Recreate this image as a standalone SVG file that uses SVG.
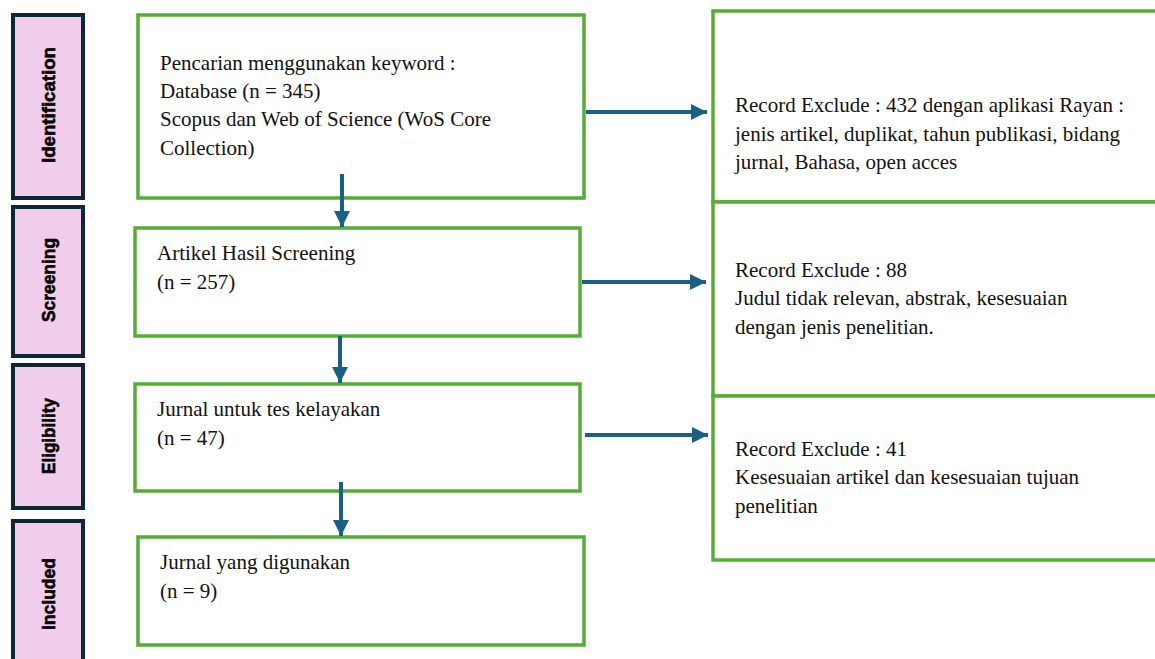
<svg xmlns="http://www.w3.org/2000/svg" width="1155" height="659" viewBox="0 0 1155 659">
<style>
.stage{fill:#f0cdeb;stroke:#0f2636;stroke-width:4}
.stxt{font-family:"Liberation Sans",Arial,sans-serif;font-weight:bold;font-size:19px;fill:#000;stroke:#000;stroke-width:0.6;text-anchor:middle}
.box{fill:#fff;stroke:#56ac34;stroke-width:3.5}
.t{font-family:"Liberation Serif","Times New Roman",serif;font-size:21px;fill:#111}
.conn{stroke:#1b5f82;stroke-width:4;fill:none}
</style>
<defs>
<marker id="ah" viewBox="0 0 10 10" refX="10" refY="5" markerWidth="4.2" markerHeight="4" orient="auto" markerUnits="strokeWidth">
<path d="M0,0 L10,5 L0,10 z" fill="#1b5f82"/>
</marker>
</defs>
<rect width="1155" height="659" fill="#fff"/>
<g id="stage-identification">
<rect class="stage" x="13" y="15" width="70" height="183"/>
<text class="stxt" transform="translate(55,105) rotate(-90)" textLength="116" lengthAdjust="spacingAndGlyphs">Identification</text>
</g>
<g id="stage-screening">
<rect class="stage" x="13" y="207" width="70" height="149"/>
<text class="stxt" transform="translate(55,280) rotate(-90)" textLength="84" lengthAdjust="spacingAndGlyphs">Screening</text>
</g>
<g id="stage-eligibility">
<rect class="stage" x="13" y="365" width="70" height="143"/>
<text class="stxt" transform="translate(55,436) rotate(-90)" textLength="76" lengthAdjust="spacingAndGlyphs">Eligibility</text>
</g>
<g id="stage-included">
<rect class="stage" x="13" y="521" width="70" height="142"/>
<text class="stxt" transform="translate(55,594) rotate(-90)" textLength="72" lengthAdjust="spacingAndGlyphs">Included</text>
</g>
<g id="node-excl1">
<rect class="box" x="713" y="11" width="450" height="191"/>
<text class="t" x="735" y="112">Record Exclude : 432 dengan aplikasi Rayan :</text>
<text class="t" x="735" y="141">jenis artikel, duplikat, tahun publikasi, bidang</text>
<text class="t" x="735" y="169">jurnal, Bahasa, open acces</text>
</g>
<g id="node-excl2">
<rect class="box" x="713" y="202" width="450" height="194"/>
<text class="t" x="735" y="277">Record Exclude : 88</text>
<text class="t" x="735" y="305">Judul tidak relevan, abstrak, kesesuaian</text>
<text class="t" x="735" y="334">dengan jenis penelitian.</text>
</g>
<g id="node-excl3">
<rect class="box" x="713" y="396" width="450" height="164"/>
<text class="t" x="735" y="456">Record Exclude : 41</text>
<text class="t" x="735" y="484">Kesesuaian artikel dan kesesuaian tujuan</text>
<text class="t" x="735" y="513">penelitian</text>
</g>
<g id="node-search">
<rect class="box" x="138" y="15" width="446" height="183"/>
<text class="t" x="160" y="70">Pencarian menggunakan keyword :</text>
<text class="t" x="160" y="98">Database (n = 345)</text>
<text class="t" x="160" y="126">Scopus dan Web of Science (WoS Core</text>
<text class="t" x="160" y="155">Collection)</text>
</g>
<g id="node-screening">
<rect class="box" x="135" y="228" width="445" height="108"/>
<text class="t" x="157" y="260">Artikel Hasil Screening</text>
<text class="t" x="157" y="289">(n = 257)</text>
</g>
<g id="node-eligibility">
<rect class="box" x="135" y="384" width="445" height="107"/>
<text class="t" x="157" y="416">Jurnal untuk tes kelayakan</text>
<text class="t" x="157" y="445">(n = 47)</text>
</g>
<g id="node-included">
<rect class="box" x="138" y="537" width="446" height="108"/>
<text class="t" x="160" y="569">Jurnal yang digunakan</text>
<text class="t" x="160" y="598">(n = 9)</text>
</g>
<g id="connectors">
<line class="conn" x1="342" y1="174" x2="342" y2="227" marker-end="url(#ah)"/>
<line class="conn" x1="340" y1="336" x2="340" y2="383" marker-end="url(#ah)"/>
<line class="conn" x1="341" y1="482" x2="341" y2="536" marker-end="url(#ah)"/>
<line class="conn" x1="586" y1="112" x2="707" y2="112" marker-end="url(#ah)"/>
<line class="conn" x1="582" y1="282" x2="706" y2="282" marker-end="url(#ah)"/>
<line class="conn" x1="585" y1="435" x2="708" y2="435" marker-end="url(#ah)"/>
</g>
</svg>
